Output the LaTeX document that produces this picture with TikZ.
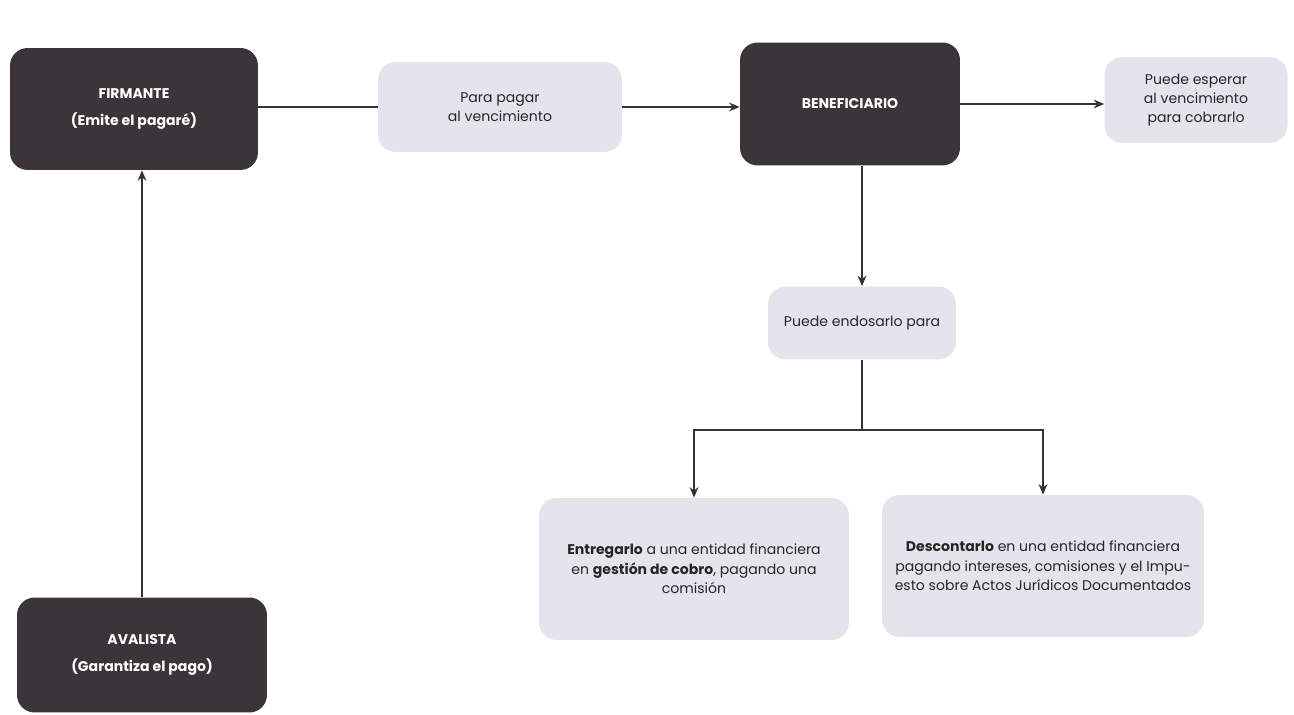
\documentclass[tikz,border=0pt]{standalone}
\usepackage{fontspec}
\setmainfont{Poppins}
\usetikzlibrary{arrows.meta}

\definecolor{oscuro}{HTML}{3B3539}
\definecolor{claro}{HTML}{E5E4EC}

\begin{document}
\begin{tikzpicture}[x=0.02cm,y=-0.02cm,
		oscura/.style={fill=oscuro, rounded corners=10pt, text=white, align=center,
			font=\fontsize{8}{15}\selectfont\bfseries},
		clara/.style={fill=claro, rounded corners=10pt, text=black!85, align=center,
			font=\fontsize{8}{11}\selectfont},
		flecha/.style={-{Stealth[length=6pt,width=5pt]}},
		linea/.style={draw=black!80, line width=0.8pt}]
				\useasboundingbox (0,0) rectangle (1294,715);
				% cajas
				\node[oscura, minimum width=4.96cm, minimum height=2.44cm] (firmante) at (134,109) {FIRMANTE\\(Emite el pagaré)};
				\node[clara, minimum width=4.88cm, minimum height=1.8cm] (para) at (500,107) {Para pagar\\al vencimiento};
				\node[oscura, minimum width=4.4cm, minimum height=2.46cm] (benef) at (850,104) {BENEFICIARIO};
				\node[clara, minimum width=3.66cm, minimum height=1.72cm] (espera) at (1196,100) {Puede esperar\\al vencimiento\\para cobrarlo};
				\node[clara, minimum width=3.76cm, minimum height=1.46cm] (endosa) at (862,323) {Puede endosarlo para};
				\node[clara, minimum width=6.2cm, minimum height=2.84cm] (entrega) at (694,569) {\textbf{Entregarlo} a una entidad financiera\\en \textbf{gestión de cobro}, pagando una\\comisión};
				\node[clara, minimum width=6.44cm, minimum height=2.84cm] (descuenta) at (1043,566) {\textbf{Descontarlo} en una entidad financiera\\pagando intereses, comisiones y el Impu-\\esto sobre Actos Jurídicos Documentados};
				\node[oscura, minimum width=5cm, minimum height=2.3cm] (avalista) at (142,655) {AVALISTA\\(Garantiza el pago)};
				% conectores
				\draw[linea] (firmante.east |- para) -- (para.west);
				\draw[linea, flecha] (para.east) -- (para.east -| benef.west);
				\draw[linea, flecha] (benef.east) -- (benef.east -| espera.west);
				\draw[linea, flecha] (benef.south -| endosa.north) -- (endosa.north);
				\coordinate (rama) at (862,430);
				\draw[linea] (endosa.south) -- (rama);
				\draw[linea, flecha] (rama) -| (entrega.north);
				\draw[linea, flecha] (rama) -| (descuenta.north);
				\draw[linea, flecha] (avalista.north) -- (avalista.north |- firmante.south);
			\end{tikzpicture}
\end{document}
